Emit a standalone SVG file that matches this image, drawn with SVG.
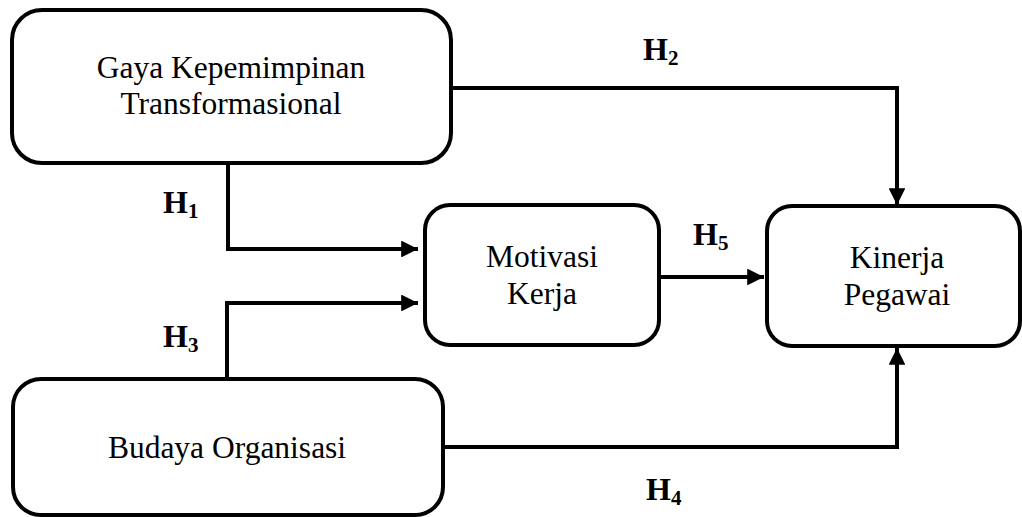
<svg xmlns="http://www.w3.org/2000/svg" width="1022" height="517" viewBox="0 0 1022 517">
<defs>
<style>
.box{fill:#fff;stroke:#000;stroke-width:4}
.t{font-family:'Liberation Serif','Times New Roman',Times,serif;font-size:31.5px;text-anchor:middle;fill:#000}
.h{font-family:'Liberation Serif','Times New Roman',Times,serif;font-size:32px;font-weight:bold;fill:#000}
.sub{font-size:21px}
.c{fill:none;stroke:#000;stroke-width:4}
</style>
<marker id="ah" viewBox="0 0 10 10" refX="10" refY="5" markerWidth="4.2" markerHeight="4.2" markerUnits="strokeWidth" orient="auto">
<path d="M0,0 L10,5 L0,10 z" fill="#000"/>
</marker>
</defs>
<rect width="1022" height="517" fill="#fff"/>
<g id="connectors">
<path class="c" d="M228,163 V249 H418" marker-end="url(#ah)"/>
<path class="c" d="M227,379 V303 H418" marker-end="url(#ah)"/>
<path class="c" d="M451,88 H897 V205" marker-end="url(#ah)"/>
<path class="c" d="M443,447 H897 V348" marker-end="url(#ah)"/>
<path class="c" d="M659,277 H764" marker-end="url(#ah)"/>
</g>
<g id="node-gaya">
<rect class="box" x="12" y="10" width="439" height="153" rx="30"/>
<text class="t" x="231" y="78">Gaya Kepemimpinan</text>
<text class="t" x="231" y="114">Transformasional</text>
</g>
<g id="node-motivasi">
<rect class="box" x="425" y="205" width="234" height="140" rx="25"/>
<text class="t" x="542" y="267">Motivasi</text>
<text class="t" x="542" y="304">Kerja</text>
</g>
<g id="node-kinerja">
<rect class="box" x="767" y="206" width="253" height="140" rx="25"/>
<text class="t" x="897" y="268">Kinerja</text>
<text class="t" x="897" y="305">Pegawai</text>
</g>
<g id="node-budaya">
<rect class="box" x="13" y="379" width="430" height="136" rx="28"/>
<text class="t" x="227" y="458">Budaya Organisasi</text>
</g>
<g id="labels">
<text class="h" x="163" y="213">H<tspan class="sub" dy="5">1</tspan></text>
<text class="h" x="643" y="60">H<tspan class="sub" dy="5">2</tspan></text>
<text class="h" x="163" y="347">H<tspan class="sub" dy="5">3</tspan></text>
<text class="h" x="646" y="500">H<tspan class="sub" dy="5">4</tspan></text>
<text class="h" x="693" y="245">H<tspan class="sub" dy="5">5</tspan></text>
</g>
</svg>
